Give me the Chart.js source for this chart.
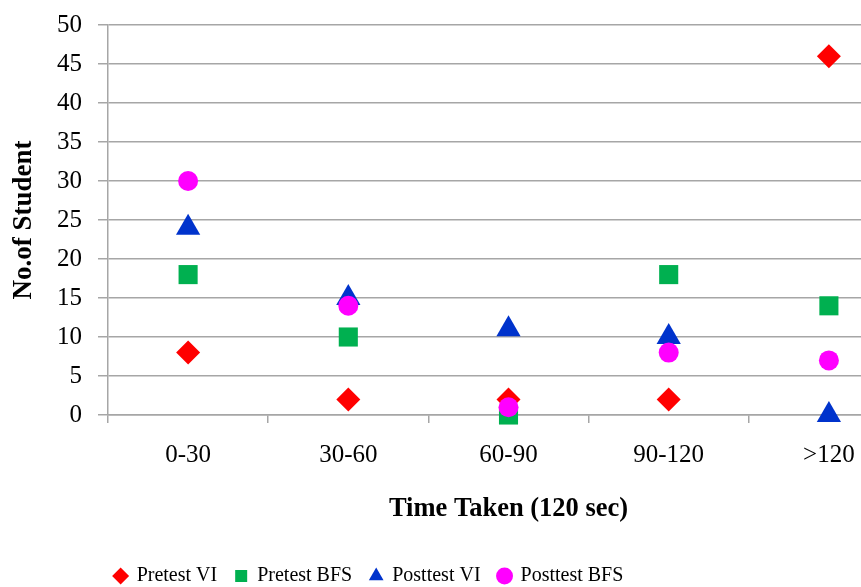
<!DOCTYPE html>
<html>
<head>
<meta charset="utf-8">
<script src="https://cdn.jsdelivr.net/npm/chart.js@4/dist/chart.umd.min.js"></script>
<style>
  html, body { margin: 0; padding: 0; background: #fff; overflow: hidden; }
  #wrap { width: 923px; height: 587px; }
</style>
</head>
<body>
<div id="wrap"><canvas id="timeChart"></canvas></div>
<script>
// categories on the x axis
const categories = ["0-30", "30-60", "60-90", "90-120", ">120"];

// series values (no. of students)
const pretestVI = [8, 2, 2, 2, 46];
const pretestBFS = [18, 10, 0, 18, 14];
const posttestVI = [24, 15, 11, 10, 0];
const posttestBFS = [30, 14, 1, 8, 7];

const seriesNames = ["Pretest VI", "Pretest BFS", "Posttest VI", "Posttest BFS"];

const serif = "'Liberation Serif', 'Times New Roman', serif";
const gridGray = "#a6a6a6";

// move legend so it sits where the original one is
const legendShift = {
    id: "legendShift",
    afterLayout(chart) {
        const lg = chart.legend;
        lg.left = 2;
        lg.right = 736;
        lg.width = 734;
    }
};

new Chart(document.getElementById("timeChart"), {
    type: "line",
    data: {
        labels: categories,
        datasets: [
            {
                label: seriesNames[0],
                data: pretestVI,
                showLine: false,
                clip: false,
                pointStyle: "rectRot",
                pointRadius: 12,
                backgroundColor: "#ff0000",
                borderColor: "#ff0000",
                borderWidth: 0,
                order: 4
            },
            {
                label: seriesNames[1],
                data: pretestBFS,
                showLine: false,
                clip: false,
                pointStyle: "rect",
                pointRadius: 13.5,
                backgroundColor: "#00b050",
                borderColor: "#00b050",
                borderWidth: 0,
                order: 3
            },
            {
                label: seriesNames[2],
                data: posttestVI,
                showLine: false,
                clip: false,
                pointStyle: "triangle",
                pointRadius: 14,
                backgroundColor: "#0033cc",
                borderColor: "#0033cc",
                borderWidth: 0,
                order: 2
            },
            {
                label: seriesNames[3],
                data: posttestBFS,
                showLine: false,
                clip: false,
                pointStyle: "circle",
                pointRadius: 10,
                backgroundColor: "#ff00ff",
                borderColor: "#ff00ff",
                borderWidth: 0,
                order: 1
            }
        ]
    },
    options: {
        responsive: true,
        maintainAspectRatio: false,
        animation: false,
        events: [],
        layout: { padding: { top: 25, right: 7, bottom: -9, left: 0 } },
        plugins: {
            tooltip: { enabled: false },
            legend: {
                position: "bottom",
                labels: {
                    usePointStyle: true,
                    boxWidth: 12,
                    boxHeight: 12,
                    padding: 18,
                    color: "#000",
                    font: { family: serif, size: 20 },
                    sort: (a, b) => a.datasetIndex - b.datasetIndex
                }
            }
        },
        scales: {
            x: {
                offset: true,
                grid: {
                    offset: true,
                    drawOnChartArea: false,
                    tickLength: 8,
                    color: gridGray,
                    lineWidth: 1.5
                },
                border: { color: gridGray, width: 1.5 },
                ticks: {
                    color: "#000",
                    padding: 17,
                    maxRotation: 0,
                    font: { family: serif, size: 25 }
                },
                title: {
                    display: true,
                    text: "Time Taken (120 sec)",
                    color: "#000",
                    padding: { top: 0, bottom: 23 },
                    font: { family: serif, size: 26.5, weight: "bold" }
                },
                afterFit: (scale) => { scale.height = 133; }
            },
            y: {
                min: 0,
                max: 50,
                ticks: {
                    stepSize: 5,
                    color: "#000",
                    padding: 16,
                    font: { family: serif, size: 25 }
                },
                grid: {
                    tickLength: 10,
                    color: gridGray,
                    lineWidth: 1.5
                },
                border: { color: gridGray, width: 1.5 },
                title: {
                    display: true,
                    text: "No.of Student",
                    color: "#000",
                    padding: { top: 8, bottom: 0 },
                    font: { family: serif, size: 27, weight: "bold" }
                },
                afterFit: (scale) => {
                    scale.width = 108;
                    scale.paddingTop = 0;
                }
            }
        }
    },
    plugins: [legendShift]
});
</script>
</body>
</html>
